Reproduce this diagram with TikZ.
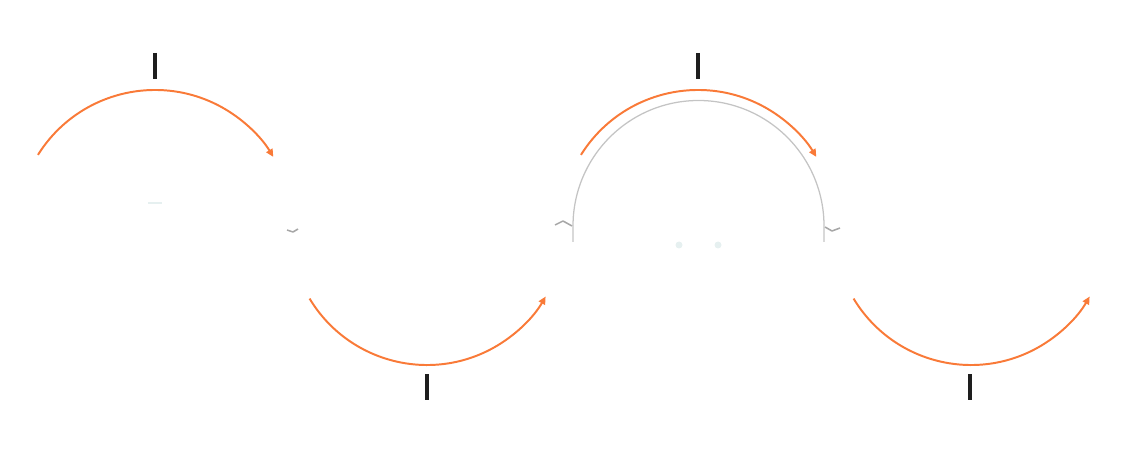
\documentclass[tikz,border=0pt]{standalone}
\usetikzlibrary{arrows.meta,calc}
\definecolor{cycorange}{HTML}{F97A38}
\definecolor{barblack}{HTML}{1E1E1E}
\definecolor{archgrey}{HTML}{C4C4C4}
\definecolor{dotpale}{HTML}{E6F0F0}
\tikzset{
  >={Triangle[length=5.5pt,width=5pt]},
  cyc/.style={->,line width=1.4pt,draw=cycorange},
  tick/.style={line width=2.2pt,draw=barblack},
  arch/.style={line width=0.9pt,draw=archgrey},
  kink/.style={line width=1.1pt,draw=archgrey!85!black,line join=round},
  pale/.style={fill=dotpale,draw=none},
}

\begin{document}
\begin{tikzpicture}[x=0.025cm,y=-0.025cm]
  \useasboundingbox (0,0) rectangle (1129,464);

  % arc centres
  \coordinate (c1) at (155,228);
  \coordinate (c2) at (427,228);
  \coordinate (c3) at (698,228);
  \coordinate (c4) at (971,228);

  % grey arch behind the third arc
  \draw[arch] (573,242) -- (573,226) arc[start angle=180,end angle=360,radius=125.5] -- (824,242);
  \draw[kink] (555,225) -- (563,221) -- (572,226);
  \draw[kink] (825,227) -- (832,231) -- (840,228);
  \draw[kink] (287,230) -- (293,232) -- (298,229);
  \fill[pale] (679,245) circle (3.5);
  \fill[pale] (718,245) circle (3.5);
  \fill[pale] (148,202) rectangle (162,204);

  % upper arcs
  \draw[cyc] ($(c1)+(-148:138)$) arc[start angle=-148,end angle=-31,radius=138];
  \draw[cyc] ($(c3)+(-148:138)$) arc[start angle=-148,end angle=-31,radius=138];
  % lower arcs
  \draw[cyc] ($(c2)+(149:137)$) arc[start angle=149,end angle=30,radius=137];
  \draw[cyc] ($(c4)+(149:137)$) arc[start angle=149,end angle=30,radius=137];

  % label bars
  \coordinate (t1) at (155,53);
  \coordinate (t3) at (698,53);
  \coordinate (b2) at (427,374);
  \coordinate (b4) at (970,374);
  \draw[tick] (t1) -- ++(0,26);
  \draw[tick] (t3) -- ++(0,26);
  \draw[tick] (b2) -- ++(0,26);
  \draw[tick] (b4) -- ++(0,26);
\end{tikzpicture}
\end{document}
